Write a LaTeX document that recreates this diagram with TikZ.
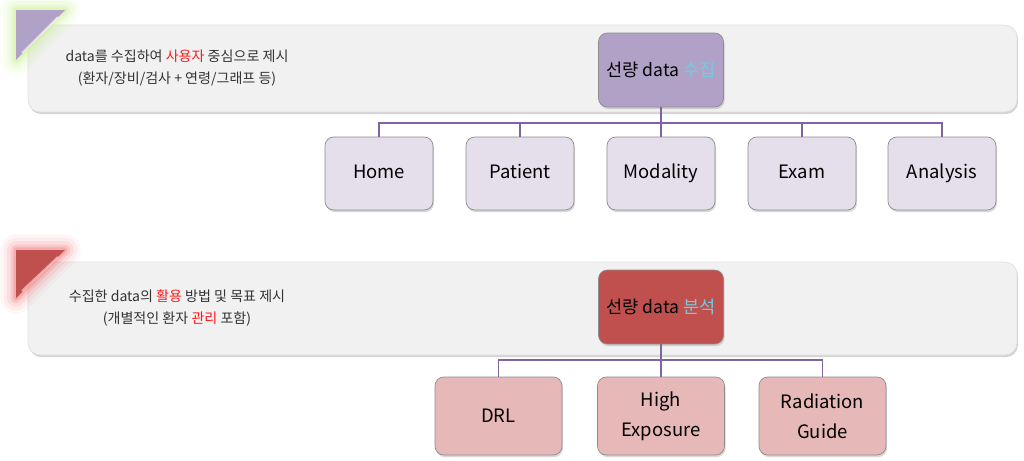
\documentclass[tikz,border=0pt]{standalone}
\usepackage{fontspec}
\setmainfont{Noto Sans CJK KR}
\usetikzlibrary{shadows}
\definecolor{panelgray}{HTML}{F1F1F1}
\definecolor{linepurple}{HTML}{8064A2}
\definecolor{headpurple}{HTML}{B2A1C7}
\definecolor{childpurple}{HTML}{E5DFEC}
\definecolor{headred}{HTML}{C0504D}
\definecolor{childred}{HTML}{E6B9B8}
\definecolor{hiblue}{HTML}{6FCDE2}
\definecolor{hired}{HTML}{FF1A1A}
\definecolor{glowgreen}{HTML}{C6EE8A}
\definecolor{glowred}{HTML}{F07070}
\newcommand{\hiR}[1]{\textcolor{hired}{#1}}
\newcommand{\hiB}[1]{\textcolor{hiblue}{#1}}
\begin{document}
\begin{tikzpicture}[x=0.02cm, y=-0.02cm,
    panel/.style = {fill=panelgray, draw=black!12, rounded corners=7pt,
                    drop shadow={shadow xshift=0.6pt, shadow yshift=-1.2pt, opacity=0.35}},
    box/.style = {draw=black!45, rounded corners=5pt, align=center,
                  drop shadow={shadow xshift=0.6pt, shadow yshift=-1.2pt, opacity=0.3}},
    head/.style = {box, minimum width=2.5cm, minimum height=1.48cm, font=\fontsize{10}{12}\selectfont},
    child/.style = {box, minimum width=2.16cm, minimum height=1.46cm,
                    text height=1.6ex, text depth=0.5ex, font=\fontsize{10.5}{16}\selectfont},
    leaf/.style = {box, minimum width=2.54cm, minimum height=1.56cm, font=\fontsize{10.5}{17}\selectfont},
    note/.style = {align=center, font=\fontsize{8}{13}\selectfont, text=black!80},
    link/.style = {linepurple, line width=1pt}]
\useasboundingbox (0,0) rectangle (1024,460);

% panels
\draw[panel] (28,25) rectangle (1017,112);
\draw[panel] (28,262) rectangle (1017,355);

% corner tabs with glow
\foreach \w/\o in {18/0.06, 14/0.08, 10/0.12, 6/0.2, 3/0.3}
  \draw[glowgreen, line width=\w pt, line join=round, opacity=\o] (16,10) -- (65,10) -- (16,60) -- cycle;
\fill[headpurple] (16,10) -- (65,10) -- (16,60) -- cycle;
\draw[white, opacity=0.6, line width=1.2pt] (58,17) -- (22,53);
\foreach \w/\o in {18/0.06, 14/0.08, 10/0.12, 6/0.2, 3/0.3}
  \draw[glowred, line width=\w pt, line join=round, opacity=\o] (16,250) -- (65,250) -- (16,298) -- cycle;
\fill[headred] (16,250) -- (65,250) -- (16,298) -- cycle;
\draw[white!80!red, opacity=0.7, line width=1.2pt] (58,257) -- (22,291);

% notes
\node[note] (noteA) at (177,68) {data를 수집하여 \hiR{사용자} 중심으로 제시\\(환자/장비/검사 + 연령/그래프 등)};
\node[note] (noteB) at (177,308) {수집한 data의 \hiR{활용} 방법 및 목표 제시\\(개별적인 환자 \hiR{관리} 포함)};

% collection tree
\node[head, fill=headpurple] (collect) at (661,70) {선량 data \hiB{수집}};
\node[child, fill=childpurple] (home) at (379,173.5) {Home};
\node[child, fill=childpurple] (patient) at (520,173.5) {Patient};
\node[child, fill=childpurple] (modality) at (661,173.5) {Modality};
\node[child, fill=childpurple] (exam) at (802,173.5) {Exam};
\node[child, fill=childpurple] (analysis) at (942,173.5) {Analysis};
\coordinate (busA) at (661,123);
\draw[link] (collect.south) -- (busA);
\foreach \n in {home, patient, modality, exam, analysis}
  \draw[link] (busA) -| (\n.north);

% analysis tree
\node[head, fill=headred] (analyse) at (661,307) {선량 data \hiB{분석}};
\node[leaf, fill=childred] (drl) at (498.5,416) {DRL};
\node[leaf, fill=childred] (highexp) at (661,416) {High\\Exposure};
\node[leaf, fill=childred] (guide) at (822.5,416) {Radiation\\Guide};
\coordinate (busB) at (661,360);
\draw[link] (analyse.south) -- (busB);
\foreach \n in {drl, highexp, guide}
  \draw[link] (busB) -| (\n.north);
\end{tikzpicture}
\end{document}
